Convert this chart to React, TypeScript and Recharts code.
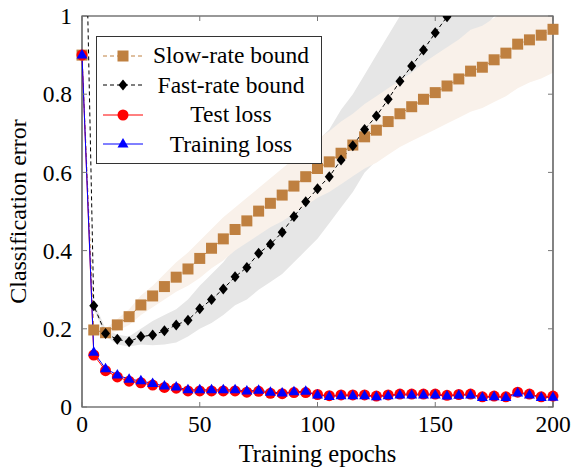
import React from 'react';
import { ComposedChart, Line, Area, XAxis, YAxis, ReferenceArea } from 'recharts';

const epochs = [0, 5, 10, 15, 20, 25, 30, 35, 40, 45, 50, 55, 60, 65, 70, 75, 80, 85, 90, 95, 100,
    105, 110, 115, 120, 125, 130, 135, 140, 145, 150, 155, 160, 165, 170, 175, 180, 185, 190, 195, 200];

const slowRate = [0.9, 0.197, 0.19, 0.21, 0.231, 0.261, 0.284, 0.308, 0.332, 0.353, 0.38, 0.406, 0.43, 0.454,
    0.476, 0.501, 0.521, 0.542, 0.565, 0.589, 0.61, 0.627, 0.649, 0.67, 0.691, 0.708, 0.73, 0.75, 0.768, 0.787,
    0.804, 0.821, 0.839, 0.859, 0.869, 0.888, 0.905, 0.928, 0.939, 0.951, 0.966];
const slowLow = [null, 0.19, 0.18, 0.195, 0.21, 0.235, 0.255, 0.275, 0.295, 0.31, 0.33, 0.355, 0.375, 0.4,
    0.42, 0.44, 0.46, 0.475, 0.495, 0.515, 0.535, 0.55, 0.57, 0.59, 0.61, 0.625, 0.645, 0.665, 0.68, 0.695,
    0.71, 0.725, 0.74, 0.755, 0.765, 0.78, 0.795, 0.815, 0.83, 0.84, 0.855];
const slowHigh = [null, 0.205, 0.2, 0.225, 0.25, 0.285, 0.31, 0.34, 0.37, 0.395, 0.425, 0.455, 0.485, 0.51,
    0.535, 0.56, 0.585, 0.61, 0.635, 0.66, 0.685, 0.705, 0.73, 0.75, 0.775, 0.795, 0.815, 0.835, 0.855, 0.88,
    0.9, 0.92, 0.94, 0.965, 0.975, 0.995, 1.015, 1.04, 1.05, 1.06, 1.075];

const fastRate = [1.72, 0.259, 0.188, 0.173, 0.167, 0.18, 0.184, 0.195, 0.21, 0.222, 0.251, 0.275, 0.302, 0.333,
    0.357, 0.393, 0.416, 0.447, 0.487, 0.525, 0.558, 0.589, 0.632, 0.668, 0.71, 0.744, 0.787, 0.833, 0.872,
    0.913, 0.957, 0.998, null, null, null, null, null, null, null, null, null];
const fastLow = [null, 0.25, 0.18, 0.16, 0.155, 0.16, 0.158, 0.16, 0.165, 0.18, 0.2, 0.215, 0.235, 0.26,
    0.275, 0.3, 0.32, 0.34, 0.37, 0.4, 0.43, 0.47, 0.51, 0.55, 0.6, 0.63, 0.67, 0.7, 0.74, 0.78, 0.82, 0.86,
    0.89, 0.93, 0.96, 1.0, 1.04, null, null, null, null];
const fastHigh = [null, 0.27, 0.2, 0.185, 0.18, 0.2, 0.22, 0.235, 0.25, 0.275, 0.31, 0.34, 0.37, 0.41,
    0.44, 0.48, 0.51, 0.55, 0.6, 0.645, 0.68, 0.71, 0.76, 0.8, 0.85, 0.9, 0.95, 1.0, 1.05, 1.1, 1.15, 1.2,
    1.25, 1.3, 1.35, 1.4, 1.45, null, null, null, null];

const testLoss = [0.9, 0.133, 0.093, 0.077, 0.066, 0.062, 0.056, 0.05, 0.048, 0.041, 0.041, 0.041, 0.041, 0.041,
    0.038, 0.04, 0.035, 0.034, 0.037, 0.037, 0.032, 0.029, 0.031, 0.031, 0.031, 0.028, 0.031, 0.033, 0.033,
    0.033, 0.033, 0.03, 0.032, 0.033, 0.026, 0.028, 0.026, 0.038, 0.033, 0.026, 0.028];
const trainLoss = [0.9, 0.14, 0.098, 0.082, 0.071, 0.067, 0.06, 0.054, 0.051, 0.044, 0.044, 0.044, 0.044, 0.044,
    0.041, 0.043, 0.038, 0.036, 0.039, 0.04, 0.031, 0.027, 0.029, 0.029, 0.029, 0.026, 0.029, 0.031, 0.031,
    0.031, 0.031, 0.028, 0.03, 0.031, 0.024, 0.026, 0.024, 0.036, 0.031, 0.024, 0.025];

const xTicks = [0, 50, 100, 150, 200];
const yTicks = [0, 0.2, 0.4, 0.6, 0.8, 1];

const FONT = '"Liberation Serif", "Times New Roman", serif';
const BROWN = '#bf8040';
const PLOT_W = 471;
const PLOT_H = 391;

const data = epochs.map((e, i) => ({
    epoch: e,
    slow: slowRate[i],
    fast: fastRate[i],
    test: testLoss[i],
    train: trainLoss[i],
    slowBand: slowLow[i] == null ? null : [slowLow[i], slowHigh[i]],
    fastBand: fastLow[i] == null ? null : [fastLow[i], fastHigh[i]],
}));

const empty = (p: any) => p.cx == null || p.cy == null || isNaN(p.cy);

const SquareDot = (p: any) => empty(p) ? <g key={p.index} /> :
    <rect key={p.index} x={p.cx - 5.5} y={p.cy - 5.5} width={11} height={11} fill={BROWN} />;
const DiamondDot = (p: any) => empty(p) ? <g key={p.index} /> :
    <polygon key={p.index} points={`${p.cx},${p.cy - 5.5} ${p.cx + 4.5},${p.cy} ${p.cx},${p.cy + 5.5} ${p.cx - 4.5},${p.cy}`} fill="#000" />;
const CircleDot = (p: any) => empty(p) ? <g key={p.index} /> :
    <circle key={p.index} cx={p.cx} cy={p.cy} r={5.5} fill="#ff0000" />;
const TriangleDot = (p: any) => empty(p) ? <g key={p.index} /> :
    <polygon key={p.index} points={`${p.cx},${p.cy - 6} ${p.cx + 5.5},${p.cy + 3.5} ${p.cx - 5.5},${p.cy + 3.5}`} fill="#0000ff" />;

// inward ticks on both sides, like the pgfplots box axis
const XTick = (p: any) => (
    <g>
        <line x1={p.x} y1={p.y} x2={p.x} y2={p.y - 5} stroke="#777" />
        <line x1={p.x} y1={p.y - PLOT_H} x2={p.x} y2={p.y - PLOT_H + 5} stroke="#777" />
        <text x={p.x} y={p.y + 25} textAnchor="middle" fontFamily={FONT} fontSize={23.5} fill="#000">{p.payload.value}</text>
    </g>
);

const YTick = (p: any) => (
    <g>
        <line x1={p.x} y1={p.y} x2={p.x + 5} y2={p.y} stroke="#777" />
        <line x1={p.x + PLOT_W} y1={p.y} x2={p.x + PLOT_W - 5} y2={p.y} stroke="#777" />
        <text x={p.x - 10} y={p.y} dy="0.35em" textAnchor="end" fontFamily={FONT} fontSize={23.5} fill="#000">{p.payload.value}</text>
    </g>
);

const XTitle = (p: any) => {
    const vb = p.viewBox;
    return <text x={vb.x + vb.width / 2} y={vb.y + 55} textAnchor="middle" fontFamily={FONT} fontSize={24.5} fill="#000">Training epochs</text>;
};

const YTitle = (p: any) => {
    const vb = p.viewBox;
    const cx = vb.x + 18;
    const cy = vb.y + vb.height / 2;
    return <text x={cx} y={cy} transform={`rotate(-90 ${cx} ${cy})`} dy="0.35em" textAnchor="middle" fontFamily={FONT} fontSize={24} fill="#000">Classification error</text>;
};

const legendItems = [
    { label: 'Slow-rate bound', color: BROWN, dash: '4 3', marker: 'square' },
    { label: 'Fast-rate bound', color: '#000', dash: '4 3', marker: 'diamond' },
    { label: 'Test loss', color: '#ff0000', dash: undefined, marker: 'circle' },
    { label: 'Training loss', color: '#0000ff', dash: undefined, marker: 'triangle' },
];

const LegendMarker = ({ item }: { item: typeof legendItems[number] }) => (
    <svg width={40} height={20} style={{ display: 'block' }}>
        <line x1={0} y1={10} x2={40} y2={10} stroke={item.color} strokeWidth={1} strokeDasharray={item.dash} />
        {item.marker === 'square' && <rect x={14.5} y={4.5} width={11} height={11} fill={BROWN} />}
        {item.marker === 'diamond' && <polygon points="20,4.5 24.5,10 20,15.5 15.5,10" fill="#000" />}
        {item.marker === 'circle' && <circle cx={20} cy={10} r={5.5} fill="#ff0000" />}
        {item.marker === 'triangle' && <polygon points="20,4 25.5,13.5 14.5,13.5" fill="#0000ff" />}
    </svg>
);

export default function App() {
    return (
        <div style={{ position: 'absolute', left: 0, top: 0, width: 572, height: 468, background: '#fff' }}>
            <ComposedChart width={572} height={468} data={data} margin={{ top: 16, right: 19, left: 0, bottom: 0 }}>
                <XAxis dataKey="epoch" type="number" domain={[0, 200]} ticks={xTicks} height={61}
                    axisLine={false} tickLine={false} tickSize={0} tickMargin={0} tick={<XTick />}
                    label={<XTitle />} />
                <YAxis type="number" domain={[0, 1]} ticks={yTicks} width={82} allowDataOverflow
                    axisLine={false} tickLine={false} tickSize={0} tickMargin={0} tick={<YTick />}
                    label={<YTitle />} />
                <Area dataKey="fastBand" stroke="none" fill="#e6e6e6" fillOpacity={1} isAnimationActive={false} />
                <Area dataKey="slowBand" stroke="none" fill="#f9f1ea" fillOpacity={1} isAnimationActive={false} />
                <Line dataKey="slow" stroke={BROWN} strokeWidth={1} strokeDasharray="4 3" dot={SquareDot} activeDot={false} isAnimationActive={false} />
                <Line dataKey="fast" stroke="#000" strokeWidth={1} strokeDasharray="4 3" dot={DiamondDot} activeDot={false} isAnimationActive={false} />
                <Line dataKey="test" stroke="#ff0000" strokeWidth={1} dot={CircleDot} activeDot={false} isAnimationActive={false} />
                <Line dataKey="train" stroke="#0000ff" strokeWidth={1} dot={TriangleDot} activeDot={false} isAnimationActive={false} />
                <ReferenceArea x1={0} x2={200} y1={0} y2={1} fill="none" stroke="#333" strokeWidth={1.2} />
            </ComposedChart>
            <div style={{
                position: 'absolute', left: 96, top: 36, width: 226, height: 128, border: '1px solid #333',
                background: '#fff', fontFamily: FONT, fontSize: 23.5, color: '#000', boxSizing: 'border-box',
                paddingTop: 4, zIndex: 2,
            }}>
                {legendItems.map((item) => (
                    <div key={item.label} style={{ display: 'flex', alignItems: 'center', height: 29.5 }}>
                        <div style={{ marginLeft: 6, width: 40 }}><LegendMarker item={item} /></div>
                        <div style={{ flex: 1, textAlign: 'center', lineHeight: '29.5px', paddingRight: 2, whiteSpace: 'nowrap' }}>{item.label}</div>
                    </div>
                ))}
            </div>
        </div>
    );
}
